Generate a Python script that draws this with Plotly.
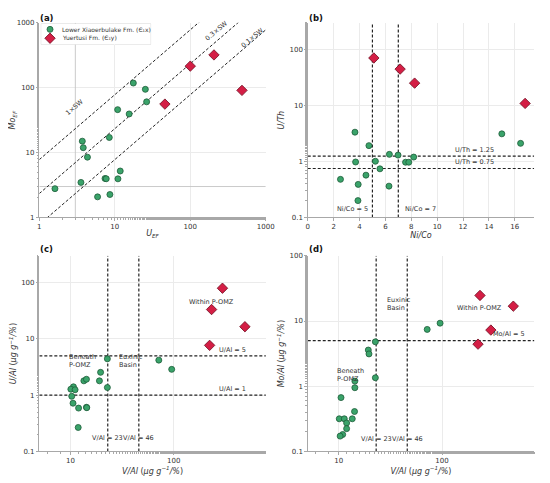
import numpy as np
import plotly.graph_objects as go

# ---------------- data ----------------
# (a) Mo_EF vs U_EF
u_ef_g = [1.61, 3.71, 3.82, 4.34, 3.56, 5.91, 7.42, 7.7, 8.61, 8.45, 11.0, 11.8, 10.9, 15.5, 17.6, 25.4, 26.4]
mo_ef_g = [2.78, 15.0, 11.9, 8.5, 3.47, 2.08, 3.99, 3.95, 2.26, 17.1, 3.94, 5.2, 45.9, 39.4, 118, 94.4, 60.6]
u_ef_r = [46.1, 100, 206, 484]
mo_ef_r = [55.9, 215, 320, 91]
sw_factors = [1, 0.3, 0.1]
sw_labels = ["1×SW", "0.3×SW", "0.1×SW"]
sw_ratio = 7.8
ef_thresh = 3

# (b) U/Th vs Ni/Co
nico_g = [3.65, 4.73, 3.7, 5.23, 6.31, 6.98, 8.19, 7.56, 7.81, 5.58, 4.5, 2.53, 3.9, 6.28, 3.88, 15.0, 16.45]
uth_g = [3.34, 1.92, 0.98, 1.01, 1.34, 1.30, 1.20, 0.97, 0.97, 0.74, 0.57, 0.48, 0.39, 0.363, 0.2, 3.12, 2.11]
nico_r = [5.11, 7.14, 8.26, 16.8]
uth_r = [70.6, 44.7, 25.1, 10.9]
nico_thr = [5, 7]
uth_thr = [1.25, 0.75]

# (c) U/Al vs V/Al
val_c_g = [22.8, 71.8, 95.7, 19.6, 19.1, 22.8, 13.5, 14.3, 10.7, 10.1, 11.1, 10.3, 10.6, 12.0, 14.3, 14.4, 11.9]
ual_g = [4.43, 4.2, 2.88, 2.55, 1.80, 1.37, 1.80, 1.92, 1.41, 1.28, 1.25, 0.957, 0.72, 0.59, 0.61, 0.60, 0.267]
val_c_r = [297, 233, 490, 223]
ual_r = [79.7, 33.3, 16.5, 7.69]
val_thr = [23, 46]
ual_thr = [5, 1]

# (d) Mo/Al vs V/Al
val_d_g = [71.8, 95.7, 22.6, 19.3, 19.6, 22.6, 14.3, 14.3, 10.5, 14.2, 10.1, 11.3, 13.5, 11.9, 11.9, 10.9, 10.3]
moal_g = [7.44, 9.27, 4.8, 3.59, 3.13, 1.35, 1.2, 0.95, 0.67, 0.41, 0.317, 0.317, 0.317, 0.273, 0.224, 0.182, 0.172]
val_d_r = [233, 490, 297, 223]
moal_r = [24.7, 16.9, 7.27, 4.42]
moal_thr = [5]

leg_names = ["Lower Xiaoerbulake Fm. (Є₁x)", "Yuertusi Fm. (Є₁y)"]

# ---------------- style ----------------
FONT = "DejaVu Sans"
GREEN = "#3aa36a"
GREEN_EDGE = "#1d5c38"
RED = "#d41e45"
RED_EDGE = "#6e0a1e"
LINE = "#222222"
GRID = "#ebebeb"
AX = "#a8a8a8"
TXT = "#333333"
DASH = "3px,2px"

# the page body has an 8px margin, so the figure is placed 8px in from the window corner
OFF = 8
W, H = 550 - OFF, 483 - OFF
def dx(p0, p1):
    return [(p0 - OFF) / W, (p1 - OFF) / W]
def dy(p0, p1):
    return [1 - (p1 - OFF) / H, 1 - (p0 - OFF) / H]

fig = go.Figure()

GM = dict(symbol="circle", size=6, color=GREEN, line=dict(color=GREEN_EDGE, width=0.8))
RM = dict(symbol="diamond", size=8, color=RED, line=dict(color=RED_EDGE, width=0.8))

def green(x, y, xa, ya):
    fig.add_trace(go.Scatter(x=x, y=y, mode="markers", xaxis=xa, yaxis=ya, name=leg_names[0],
                             showlegend=False, cliponaxis=False, marker=GM))

def red(x, y, xa, ya):
    fig.add_trace(go.Scatter(x=x, y=y, mode="markers", xaxis=xa, yaxis=ya, name=leg_names[1],
                             showlegend=False, cliponaxis=False, marker=RM))

def line(x, y, xa, ya, color=LINE, dash=DASH, width=1.2):
    fig.add_trace(go.Scatter(x=x, y=y, mode="lines", xaxis=xa, yaxis=ya, showlegend=False,
                             hoverinfo="skip",
                             line=dict(color=color, dash=dash, width=width)))

# ---- (a) ----
line([ef_thresh, ef_thresh], [1, 1000], "x", "y", color="#c4c4c4", dash="solid", width=0.9)
line([1, 1000], [ef_thresh, ef_thresh], "x", "y", color="#c4c4c4", dash="solid", width=0.9)
for f in sw_factors:
    xs = np.array([1, 1000.0])
    line(xs, sw_ratio * f * xs, "x", "y", width=1.0)
green(u_ef_g, mo_ef_g, "x", "y")
red(u_ef_r, mo_ef_r, "x", "y")

# ---- (b) ----
for t in nico_thr:
    line([t, t], [0.1, 300], "x2", "y2")
for t in uth_thr:
    line([0, 17.5], [t, t], "x2", "y2")
green(nico_g, uth_g, "x2", "y2")
red(nico_r, uth_r, "x2", "y2")

# ---- (c) ----
for t in val_thr:
    line([t, t], [0.1, 300], "x3", "y3")
for t in ual_thr:
    line([5, 800], [t, t], "x3", "y3")
green(val_c_g, ual_g, "x3", "y3")
red(val_c_r, ual_r, "x3", "y3")

# ---- (d) ----
for t in val_thr:
    line([t, t], [0.1, 100], "x4", "y4")
for t in moal_thr:
    line([5, 800], [t, t], "x4", "y4")
green(val_d_g, moal_g, "x4", "y4")
red(val_d_r, moal_r, "x4", "y4")

# ---- legend (drawn in a small frame on top of panel a) ----
shapes = [dict(type="rect", xref="x5 domain", yref="y5 domain", x0=0, x1=1, y0=0, y1=1,
               line=dict(color="#cfcfcf", width=0.8), fillcolor="white", layer="below")]
fig.add_trace(go.Scatter(x=[0.08], y=[0.73], mode="markers", xaxis="x5", yaxis="y5",
                         showlegend=False, hoverinfo="skip", marker=GM))
fig.add_trace(go.Scatter(x=[0.08], y=[0.30], mode="markers", xaxis="x5", yaxis="y5",
                         showlegend=False, hoverinfo="skip", marker=RM))

# ---------------- axes ----------------
tickf = dict(family=FONT, size=7, color=TXT)
titf = dict(family=FONT, size=8, color=TXT)

def logaxis(rng, vals, texts, dom, anchor, title, standoff=0):
    return dict(type="log", range=[np.log10(rng[0]), np.log10(rng[1])], domain=dom, anchor=anchor,
                tickvals=vals, ticktext=texts, ticks="outside", ticklen=2.5, tickcolor=AX,
                tickfont=tickf, showline=True, linecolor=AX, linewidth=0.8, mirror=False,
                showgrid=True, gridcolor=GRID, gridwidth=0.6, zeroline=False,
                minor=dict(ticks="outside", ticklen=1.5, tickcolor=AX, showgrid=False),
                title=dict(text=title, font=titf, standoff=standoff))

def linaxis(rng, dtick, dom, anchor, title, standoff=0):
    return dict(type="linear", range=rng, domain=dom, anchor=anchor, dtick=dtick, tick0=0,
                ticks="outside", ticklen=2.5, tickcolor=AX, tickfont=tickf,
                showline=True, linecolor=AX, linewidth=0.8, showgrid=True, gridcolor=GRID,
                gridwidth=0.6, zeroline=False,
                title=dict(text=title, font=titf, standoff=standoff))

dec_vals = [1, 10, 100, 1000]
dec_txt = ["1", "10", "100", "1000"]
small_vals = [0.1, 1, 10, 100]
small_txt = ["0.1", "1", "10", "100"]
va_vals = [10, 100]
va_txt = ["10", "100"]

unit = " (<i>μg g<sup>−1</sup>/%</i>)"
hidden = dict(visible=False, range=[0, 1], fixedrange=True, showgrid=False, zeroline=False)
fig.update_layout(
    xaxis=logaxis([1, 1000], dec_vals, dec_txt, dx(36, 268), "y", "<i>U</i><sub><i>EF</i></sub>"),
    yaxis=logaxis([1, 1000], dec_vals, dec_txt, dy(19, 217), "x", "<i>Mo</i><sub><i>EF</i></sub>", 3),
    xaxis2=linaxis([0, 17.5], 2, dx(311, 543), "y2", "<i>Ni/Co</i>"),
    yaxis2=logaxis([0.1, 300], small_vals, small_txt, dy(19, 217), "x2", "<i>U/Th</i>", 3),
    xaxis3=logaxis([5, 780], va_vals, va_txt, dx(36, 268), "y3", "<i>V/Al</i>" + unit),
    yaxis3=logaxis([0.1, 300], small_vals, small_txt, dy(256, 455), "x3", "<i>U/Al</i>" + unit, 3),
    xaxis4=logaxis([5, 780], va_vals, va_txt, dx(311, 543), "y4", "<i>V/Al</i>" + unit),
    yaxis4=logaxis([0.1, 100], small_vals, small_txt, dy(256, 455), "x4", "<i>Mo/Al</i>" + unit, 3),
    xaxis5=dict(hidden, domain=dx(38, 150), anchor="y5"),
    yaxis5=dict(hidden, domain=dy(20, 41), anchor="x5"),
)

# ---------------- annotations ----------------
ann = []
def txt(x, y, s, xref, yref, size=6.5, xanchor="center", yanchor="middle", angle=0, align="center"):
    ann.append(dict(x=x, y=y, xref=xref, yref=yref, text=s, showarrow=False, xanchor=xanchor,
                    yanchor=yanchor, textangle=angle, align=align,
                    font=dict(family=FONT, size=size, color=TXT)))
L = np.log10

# legend labels
txt(0.167, 0.73, leg_names[0], "x5", "y5", size=6, xanchor="left")
txt(0.167, 0.30, leg_names[1], "x5", "y5", size=6, xanchor="left")

# panel labels
for lab, px, py in [("(a)", 36, 13), ("(b)", 311, 13), ("(c)", 36, 249), ("(d)", 311, 249)]:
    ann.append(dict(x=(px - OFF) / W, y=1 - max(py - OFF, 6) / H, xref="paper", yref="paper",
                    text="<b>" + lab + "</b>", showarrow=False, xanchor="left", yanchor="middle",
                    borderpad=0, font=dict(family=FONT, size=8.5, color="#111")))

# (a) SW labels
sw_pos = [(2.95, 51), (221, 757), (660, 586)]
for s, (x, y) in zip(sw_labels, sw_pos):
    txt(L(x), L(y), s, "x", "y", angle=-40)

# (b)
txt(4.85, L(0.142), "Ni/Co = 5", "x2", "y2", xanchor="right")
txt(7.4, L(0.142), "Ni/Co = 7", "x2", "y2", xanchor="left")
txt(11.2, L(1.25), "U/Th = 1.25", "x2", "y2", xanchor="left", yanchor="bottom")
txt(11.2, L(0.75), "U/Th = 0.75", "x2", "y2", xanchor="left", yanchor="bottom")

# (c)
txt(L(230), L(45), "Within P-OMZ", "x3", "y3")
txt(L(9.2), L(4.1), "Beneath<br>P-OMZ", "x3", "y3", xanchor="left", align="left")
txt(L(28), L(4.1), "Euxinic<br>Basin", "x3", "y3", xanchor="left", align="left")
txt(L(530), L(5), "U/Al = 5", "x3", "y3", xanchor="right", yanchor="bottom")
txt(L(530), L(1), "U/Al = 1", "x3", "y3", xanchor="right", yanchor="bottom")
txt(L(23), L(0.175), "V/Al = 23", "x3", "y3")
txt(L(46), L(0.175), "V/Al = 46", "x3", "y3")

# (d)
txt(L(230), L(15.8), "Within P-OMZ", "x4", "y4")
txt(L(9.1), L(1.48), "Beneath<br>P-OMZ", "x4", "y4", xanchor="left", align="left")
txt(L(28), L(18), "Euxinic<br>Basin", "x4", "y4", xanchor="left", align="left")
txt(L(295), L(5.1), "Mo/Al = 5", "x4", "y4", xanchor="left", yanchor="bottom")
txt(L(23), L(0.155), "V/Al = 23", "x4", "y4")
txt(L(46), L(0.155), "V/Al = 46", "x4", "y4")

fig.update_layout(
    annotations=ann,
    shapes=shapes,
    width=W, height=H,
    margin=dict(l=0, r=0, t=0, b=0),
    paper_bgcolor="white", plot_bgcolor="white",
    font=dict(family=FONT, size=7, color=TXT),
    showlegend=False,
)

fig.write_html("out.html")
